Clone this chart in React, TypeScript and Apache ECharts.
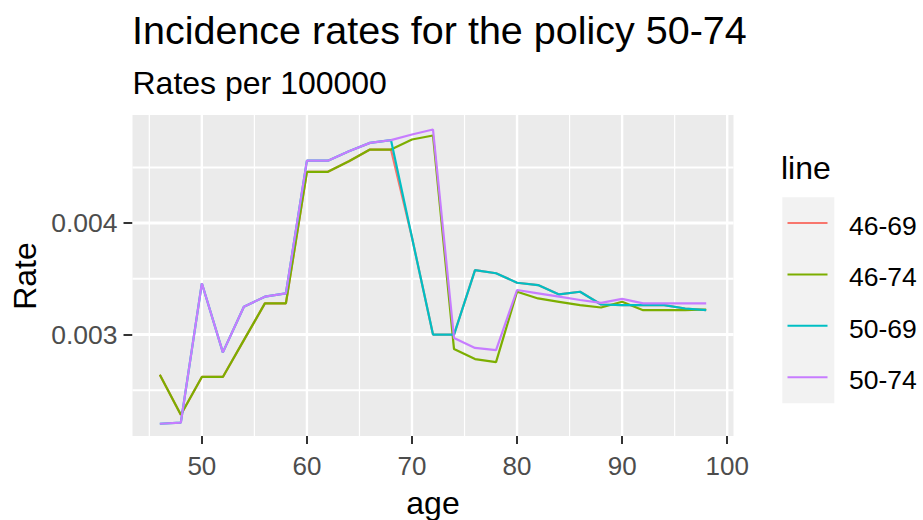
import React, { useEffect, useRef } from "react";
import * as echarts from "echarts";

const ages = [46, 48, 50, 52, 54, 56, 58, 60, 62, 64, 66, 68, 70, 72, 74, 76, 78, 80, 82, 84, 86, 88, 90, 92, 94, 96, 98];

const rate4669 = [0.00264, 0.00228, 0.00262, 0.00262, 0.00295, 0.00328, 0.00328, 0.00446, 0.00446, 0.004555, 0.00466, 0.00466, 0.00387, 0.003, 0.003, 0.003579, 0.00355, 0.003465, 0.003444, 0.00336, 0.003384, 0.00327, 0.003264, 0.003264, 0.003264, 0.003234, 0.00322];
const rate4674 = [0.00264, 0.00228, 0.00262, 0.00262, 0.00295, 0.00328, 0.00328, 0.00446, 0.00446, 0.004555, 0.00466, 0.00466, 0.00475, 0.004786, 0.00287, 0.00278, 0.002753, 0.003384, 0.003324, 0.003294, 0.003264, 0.003243, 0.003294, 0.003219, 0.003219, 0.003219, 0.003225];
const rate5069 = [0.0022, 0.00221, 0.00346, 0.00284, 0.00325, 0.00334, 0.00337, 0.00456, 0.00456, 0.004645, 0.00472, 0.004745, 0.00387, 0.003, 0.003, 0.003579, 0.00355, 0.003465, 0.003444, 0.00336, 0.003384, 0.00327, 0.003264, 0.003264, 0.003264, 0.003234, 0.00322];
const rate5074 = [0.0022, 0.00221, 0.00346, 0.00284, 0.00325, 0.00334, 0.00337, 0.00456, 0.00456, 0.004645, 0.00472, 0.004745, 0.004795, 0.00484, 0.00297, 0.00288, 0.00286, 0.0034, 0.00337, 0.00334, 0.00331, 0.003285, 0.00332, 0.00328, 0.00328, 0.00328, 0.00328];

const seriesNames = ["46-69", "46-74", "50-69", "50-74"];
const seriesColors = ["#F8766D", "#7CAE00", "#00BFC4", "#C77CFF"];
const seriesRates = [rate4669, rate4674, rate5069, rate5074];

const xMajorTicks = [50, 60, 70, 80, 90, 100];
const xMinorTicks = [45, 55, 65, 75, 85, 95];
const yMajorTicks = [0.003, 0.004];
const yMinorTicks = [0.0025, 0.0035, 0.0045];

const X_MIN = 43.4;
const X_MAX = 100.6;
const Y_MIN = 0.00209;
const Y_MAX = 0.00497;

const titleText = "Incidence rates for the policy 50-74";
const subtitleText = "Rates per 100000";
const xTitle = "age";
const yTitle = "Rate";
const legendTitle = "line";

const FONT = "'Liberation Sans', Arial, sans-serif";
const MAJOR_W = 2.4;
const MINOR_W = 1.2;
const H_MAJOR_W = 3;
const H_MINOR_W = 2;

export default function App() {
  const ref = useRef<HTMLDivElement>(null);

  useEffect(() => {
    if (!ref.current) return;
    const chart = echarts.init(ref.current, undefined, { renderer: "svg" });

    // [x, y, orientation (0 vertical / 1 horizontal), major flag]
    const gridItems = [
      ...xMinorTicks.map((v) => [v, Y_MIN, 0, 0]),
      ...xMajorTicks.map((v) => [v, Y_MIN, 0, 1]),
      ...yMinorTicks.map((v) => [X_MIN, v, 1, 0]),
      ...yMajorTicks.map((v) => [X_MIN, v, 1, 1]),
    ];
    const gridSeries = {
      type: "custom",
      silent: true,
      clip: false,
      z: 2,
      data: gridItems,
      renderItem: (_params: any, api: any) => {
        const horiz = api.value(2) === 1;
        const major = api.value(3) === 1;
        if (horiz) {
          const w = major ? H_MAJOR_W : H_MINOR_W;
          const v = api.value(1);
          const l = api.coord([X_MIN, v]);
          const r = api.coord([X_MAX, v]);
          return {
            type: "rect",
            shape: { x: l[0], y: l[1] - w / 2, width: r[0] - l[0], height: w },
            style: { fill: "#FFFFFF" },
            z2: 10,
          };
        }
        const w = major ? MAJOR_W : MINOR_W;
        const v = api.value(0);
        const t = api.coord([v, Y_MAX]);
        const b = api.coord([v, Y_MIN]);
        return {
          type: "rect",
          shape: { x: t[0] - w / 2, y: t[1], width: w, height: b[1] - t[1] },
          style: { fill: "#FFFFFF" },
        };
      },
    };

    const legendItems: any[] = [];
    legendItems.push({
      type: "rect",
      shape: { x: 782.3, y: 197.3, width: 52, height: 206 },
      style: { fill: "#F2F2F2" },
      silent: true,
    });
    seriesNames.forEach((name, i) => {
      const y = 223 + i * 51.4;
      legendItems.push({
        type: "line",
        shape: { x1: 787.5, y1: y, x2: 827.5, y2: y },
        style: { stroke: seriesColors[i], lineWidth: 2 },
        silent: true,
      });
      legendItems.push({
        type: "text",
        x: 849,
        y: y + 3,
        style: { text: name, fontSize: 26.5, fontFamily: FONT, fill: "#000000", align: "left", verticalAlign: "middle" },
        silent: true,
      });
    });

    const option: any = {
      animation: false,
      backgroundColor: "#FFFFFF",
      grid: {
        left: 132.5,
        right: 189.5,
        top: 115,
        bottom: 84,
        show: true,
        backgroundColor: "#EBEBEB",
        borderWidth: 0,
        containLabel: false,
      },
      xAxis: {
        type: "value",
        min: X_MIN,
        max: X_MAX,
        splitLine: { show: false },
        axisLine: { show: false },
        axisTick: { show: true, length: 8, lineStyle: { color: "#333333", width: 2 }, customValues: xMajorTicks },
        axisLabel: { customValues: xMajorTicks, color: "#4D4D4D", fontSize: 26, margin: 17, fontFamily: FONT },
      },
      yAxis: {
        type: "value",
        min: Y_MIN,
        max: Y_MAX,
        splitLine: { show: false },
        axisLine: { show: false },
        axisTick: { show: true, length: 9, lineStyle: { color: "#333333", width: 2 }, customValues: yMajorTicks },
        axisLabel: {
          customValues: yMajorTicks,
          color: "#4D4D4D",
          fontSize: 26.5,
          margin: 15,
          fontFamily: FONT,
          formatter: (v: number) => v.toFixed(3),
        },
      },
      series: [
        gridSeries,
        ...seriesNames.map((name, i) => ({
          type: "line",
          name,
          data: ages.map((a, j) => [a, seriesRates[i][j]]),
          symbol: "none",
          showSymbol: false,
          silent: true,
          z: 3 + i,
          lineStyle: { color: seriesColors[i], width: 2.2 },
          itemStyle: { color: seriesColors[i] },
        })),
      ],
      graphic: [
        {
          type: "text",
          x: 132,
          y: 30.1,
          style: { text: titleText, fontSize: 39.5, fontFamily: FONT, fill: "#000000", align: "left", verticalAlign: "middle" },
          silent: true,
        },
        {
          type: "text",
          x: 132.5,
          y: 83.3,
          style: { text: subtitleText, fontSize: 32, fontFamily: FONT, fill: "#000000", align: "left", verticalAlign: "middle" },
          silent: true,
        },
        {
          type: "text",
          x: 25,
          y: 276,
          rotation: Math.PI / 2,
          style: { text: yTitle, fontSize: 32, fontFamily: FONT, fill: "#000000", align: "center", verticalAlign: "middle" },
          silent: true,
        },
        {
          type: "text",
          x: 433,
          y: 503,
          style: { text: xTitle, fontSize: 32, lineHeight: 26, fontFamily: FONT, fill: "#000000", align: "center", verticalAlign: "middle" },
          silent: true,
        },
        {
          type: "text",
          x: 781,
          y: 168.2,
          style: { text: legendTitle, fontSize: 32, fontFamily: FONT, fill: "#000000", align: "left", verticalAlign: "middle" },
          silent: true,
        },
        ...legendItems,
      ],
    };

    chart.setOption(option);
    return () => chart.dispose();
  }, []);

  return <div ref={ref} style={{ position: "absolute", left: 0, top: 0, width: 923, height: 520 }} />;
}
